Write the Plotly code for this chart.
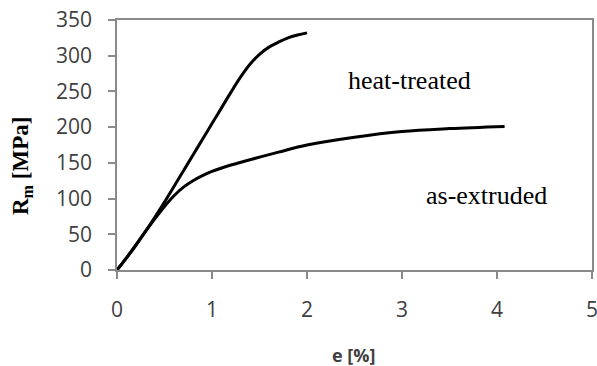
import plotly.graph_objects as go

# Data
ht_strain = [0, 0.1, 0.2, 0.3, 0.4, 0.5, 0.6, 0.7, 0.8, 0.9, 1.0, 1.1, 1.2, 1.3, 1.4, 1.5, 1.6, 1.7, 1.8, 1.9, 2.0]
ht_stress = [0, 17, 35, 54, 74, 95, 117, 139, 161, 183, 205, 227, 249, 270, 288, 302, 312, 319, 325, 329, 332]

ae_strain = [0, 0.1, 0.2, 0.3, 0.4, 0.5, 0.6, 0.7, 0.8, 0.9, 1.0, 1.2, 1.5, 1.7, 2.0, 2.5, 3.0, 3.5, 4.08]
ae_stress = [0, 17, 35, 54, 72, 89, 104, 116, 125, 132, 138, 147, 158, 165, 175, 186, 194, 198, 201]

x_ticks = [0, 1, 2, 3, 4, 5]
y_ticks = [0, 50, 100, 150, 200, 250, 300, 350]

fig = go.Figure()
fig.add_trace(go.Scatter(x=ht_strain, y=ht_stress, mode="lines",
                         line=dict(color="black", width=3, shape="spline", smoothing=1.0),
                         name="heat-treated"))
fig.add_trace(go.Scatter(x=ae_strain, y=ae_stress, mode="lines",
                         line=dict(color="black", width=3, shape="spline", smoothing=1.0),
                         name="as-extruded"))

common = dict(showline=True, linecolor="#8a8a8a", linewidth=1.5, mirror=True,
              showgrid=False, zeroline=False, ticks="outside", ticklen=7,
              tickcolor="#8a8a8a", tickwidth=1.5, ticklabeloverflow="allow",
              automargin=False,
              tickfont=dict(family="Open Sans", size=21, color="#404040"))

fig.update_xaxes(range=[0, 5], tickvals=x_ticks, ticklabelstandoff=13, **common)
fig.update_yaxes(range=[0, 350], tickvals=y_ticks, ticklabelstandoff=12, **common)

fig.add_annotation(x=3.08, y=266, xref="x", yref="y", text="heat-treated", showarrow=False,
                   font=dict(family="Liberation Serif", size=26, color="black"))
fig.add_annotation(x=3.89, y=105, xref="x", yref="y", text="as-extruded", showarrow=False,
                   font=dict(family="Liberation Serif", size=26, color="black"))
fig.add_annotation(x=(353 - 117) / 475, y=-(355 - 270) / 250, xref="paper", yref="paper",
                   xanchor="center", yanchor="middle",
                   text="<b>e [%]</b>", showarrow=False,
                   font=dict(family="Open Sans", size=18, color="#404040"))
fig.add_annotation(x=-(117 - 22) / 475, y=(270 - 166) / 250, xref="paper", yref="paper",
                   xanchor="center", yanchor="middle",
                   text="<b>R<sub>m</sub> [MPa]</b>", showarrow=False, textangle=-90,
                   font=dict(family="Liberation Serif", size=23, color="black"))

fig.update_layout(
    width=597, height=366,
    margin=dict(l=117, r=5, t=20, b=96),
    paper_bgcolor="white", plot_bgcolor="white",
    showlegend=False,
)

fig.write_html("out.html", config={"displayModeBar": False},
               post_script="document.body.style.margin='0';document.body.style.overflow='hidden';")
